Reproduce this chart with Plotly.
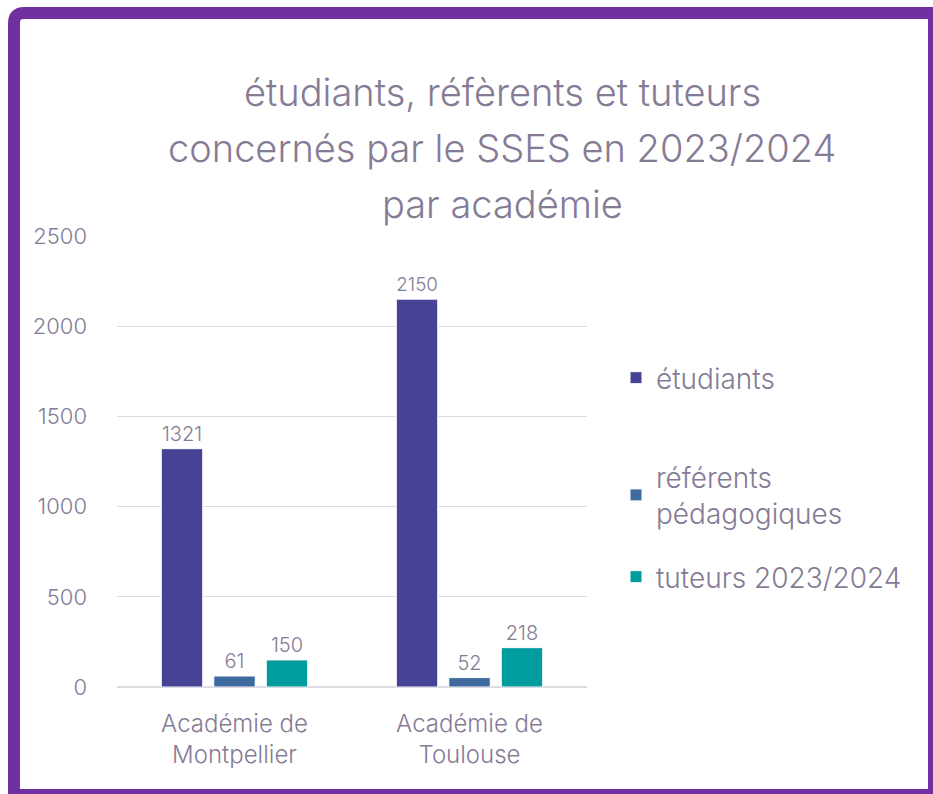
import plotly.graph_objects as go

academies = ["Académie de<br>Montpellier", "Académie de<br>Toulouse"]
etudiants = [1321, 2150]
referents = [61, 52]
tuteurs = [150, 218]

series_names = ["étudiants", "référents<br>pédagogiques", "tuteurs 2023/2024"]
title_lines = ["étudiants, réfèrents et tuteurs",
               "concernés par le SSES en 2023/2024",
               "par académie"]
y_ticks = [0, 500, 1000, 1500, 2000, 2500]

colors = ["#474394", "#3E6A9F", "#009C9E"]
text_col = "#857B95"
font_fam = "Inter"

W, H = 933, 794
L, R, T, B = 117, 346, 236, 107
pw, ph = W - L - R, H - T - B


def px_x(x):
    return (x - L) / pw


def px_y(y):
    return (H - B - y) / ph


fig = go.Figure()
legends = ["legend", "legend2", "legend3"]
for vals, name, col, lg in zip([etudiants, referents, tuteurs], series_names, colors, legends):
    fig.add_trace(go.Bar(
        x=academies, y=vals, name=name, legend=lg, showlegend=True,
        marker=dict(color=col, line=dict(color="white", width=1)),
        text=vals, textposition="outside", cliponaxis=False,
        textfont=dict(size=20, color=text_col, family=font_fam, weight=300),
    ))

leg_font = dict(size=28, color=text_col, family=font_fam, weight=300)
leg_common = dict(xref="paper", yref="paper", xanchor="left", yanchor="top",
                  font=leg_font, bgcolor="rgba(0,0,0,0)", itemwidth=30)
fig.update_layout(
    showlegend=True,
    legend=dict(x=px_x(616), y=px_y(353), **leg_common),
    legend2=dict(x=px_x(616), y=px_y(452), **leg_common),
    legend3=dict(x=px_x(616), y=px_y(552), **leg_common),
)

# titre sur trois lignes
for i, line in enumerate(title_lines):
    fig.add_annotation(text=line, xref="paper", yref="paper",
                       x=px_x(502), y=px_y(92 + 56 * i),
                       xanchor="center", yanchor="middle", showarrow=False,
                       font=dict(size=38, color=text_col, family=font_fam, weight=300))

# cadre violet, coin haut gauche arrondi
x0, x1, y0, y1 = px_x(14), px_x(934), px_y(795), px_y(13)
rx, ry = px_x(24) - px_x(14), px_y(13) - px_y(23)
path = (f"M {x0},{y0} L {x0},{y1 - ry} Q {x0},{y1} {x0 + rx},{y1} "
        f"L {x1},{y1} L {x1},{y0} Z")
fig.add_shape(type="path", xref="paper", yref="paper", path=path,
              line=dict(color="#7030A0", width=12), layer="above")

fig.update_layout(
    width=W, height=H,
    margin=dict(l=L, r=R, t=T, b=B),
    paper_bgcolor="white", plot_bgcolor="white",
    barmode="group", bargap=0.33, bargroupgap=0.21,
    font=dict(family=font_fam, color=text_col),
    xaxis=dict(tickfont=dict(size=24, color=text_col, family=font_fam, weight=300),
               showgrid=False, showline=False, ticks="", ticklabelstandoff=20),
    yaxis=dict(range=[0, 2500], tickvals=y_ticks,
               tickfont=dict(size=22, color=text_col, family=font_fam, weight=300),
               gridcolor="#DEDCE3", gridwidth=1, zeroline=True,
               zerolinecolor="#DEDCE3", zerolinewidth=2,
               showline=False, ticks="", ticklabelstandoff=29),
)

# pas de marge autour du graphique dans la page, pas de barre d'outils
fig.write_html("out.html", config={"displayModeBar": False},
               post_script="document.body.style.margin = '0';")
